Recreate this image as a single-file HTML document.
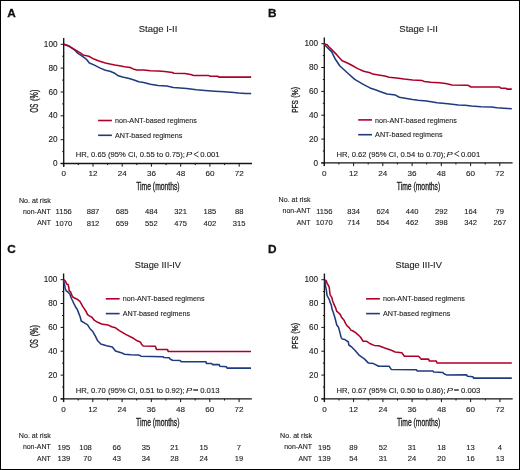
<!DOCTYPE html>
<html><head><meta charset="utf-8"><style>
html,body{margin:0;padding:0;background:#fff;}
body{width:520px;height:470px;overflow:hidden;font-family:"Liberation Sans",sans-serif;}
svg{display:block;}
</style></head><body>
<div style="will-change:transform;width:520px;height:470px"><svg width="520" height="470" viewBox="0 0 520 470" font-family="Liberation Sans, sans-serif">
<style>text{stroke:#222;stroke-width:0.12px;}</style>
<rect x="0" y="0" width="520" height="470" fill="#fff"/>
<text x="7.2" y="17.2" font-size="11.8" font-weight="bold" fill="#111" style="stroke-width:0.3px;stroke:#111">A</text>
<text x="158.0" y="32.2" font-size="9.8" text-anchor="middle" textLength="38.6" lengthAdjust="spacingAndGlyphs" fill="#222">Stage I-II</text>
<path d="M63.7,38.0 V166.7 M60.7,163.5 H252.0" stroke="#151515" stroke-width="1.35" fill="none"/>
<path d="M60.7,163.5 H63.7 M62.2,151.6 H63.7 M60.7,139.7 H63.7 M62.2,127.7 H63.7 M60.7,115.8 H63.7 M62.2,103.9 H63.7 M60.7,92.0 H63.7 M62.2,80.1 H63.7 M60.7,68.1 H63.7 M62.2,56.2 H63.7 M60.7,44.3 H63.7 M63.7,163.5 V166.7 M78.3,163.5 V165.1 M93.0,163.5 V166.7 M107.6,163.5 V165.1 M122.2,163.5 V166.7 M136.8,163.5 V165.1 M151.4,163.5 V166.7 M166.1,163.5 V165.1 M180.7,163.5 V166.7 M195.3,163.5 V165.1 M209.9,163.5 V166.7 M224.6,163.5 V165.1 M239.2,163.5 V166.7" stroke="#151515" stroke-width="1" fill="none"/>
<text x="57.5" y="166.1" font-size="8.2" text-anchor="end" fill="#222">0</text>
<text x="57.5" y="142.3" font-size="8.2" text-anchor="end" fill="#222">20</text>
<text x="57.5" y="118.4" font-size="8.2" text-anchor="end" fill="#222">40</text>
<text x="57.5" y="94.6" font-size="8.2" text-anchor="end" fill="#222">60</text>
<text x="57.5" y="70.7" font-size="8.2" text-anchor="end" fill="#222">80</text>
<text x="57.5" y="46.9" font-size="8.2" text-anchor="end" fill="#222">100</text>
<text x="63.7" y="176.4" font-size="8.1" text-anchor="middle" fill="#222">0</text>
<text x="93.0" y="176.4" font-size="8.1" text-anchor="middle" fill="#222">12</text>
<text x="122.2" y="176.4" font-size="8.1" text-anchor="middle" fill="#222">24</text>
<text x="151.4" y="176.4" font-size="8.1" text-anchor="middle" fill="#222">36</text>
<text x="180.7" y="176.4" font-size="8.1" text-anchor="middle" fill="#222">48</text>
<text x="209.9" y="176.4" font-size="8.1" text-anchor="middle" fill="#222">60</text>
<text x="239.2" y="176.4" font-size="8.1" text-anchor="middle" fill="#222">72</text>
<text x="136.2" y="190.3" font-size="10.6" textLength="43.4" lengthAdjust="spacingAndGlyphs" fill="#222" style="stroke-width:0.35px">Time (months)</text>
<text transform="translate(37.90,112.40) rotate(-90)" x="0" y="0" font-size="10.6" textLength="8.6" lengthAdjust="spacingAndGlyphs" fill="#222" style="stroke-width:0.35px">OS</text>
<text transform="translate(37.90,100.90) rotate(-90)" x="0" y="0" font-size="10.6" textLength="11.2" lengthAdjust="spacingAndGlyphs" fill="#222" style="stroke-width:0.35px">(%)</text>
<path d="M98.1,120.5 h13.8" stroke="#ad0029" stroke-width="1.6"/>
<path d="M98.1,135.3 h13.8" stroke="#1f3b7e" stroke-width="1.6"/>
<text x="115.0" y="123.1" font-size="8.1" textLength="81.8" lengthAdjust="spacingAndGlyphs" fill="#222">non-ANT-based regimens</text>
<text x="115.0" y="137.6" font-size="8.1" textLength="67.4" lengthAdjust="spacingAndGlyphs" fill="#222">ANT-based regimens</text>
<text x="75.80" y="157.10" font-size="8" textLength="109.0" lengthAdjust="spacingAndGlyphs" fill="#222">HR, 0.65 (95% CI, 0.55 to 0.75);</text>
<text x="186.00" y="157.10" font-size="8" font-style="italic" textLength="6.2" lengthAdjust="spacingAndGlyphs" fill="#222">P</text>
<path d="M198.60,151.80 L193.90,154.40 L198.60,157.00" fill="none" stroke="#333" stroke-width="0.9"/>
<text x="200.30" y="157.10" font-size="8" textLength="19.3" lengthAdjust="spacingAndGlyphs" fill="#222">0.001</text>
<text x="18.9" y="202.6" font-size="7.5" textLength="32.0" lengthAdjust="spacingAndGlyphs" fill="#222">No. at risk</text>
<text x="50.8" y="214.0" font-size="7.5" text-anchor="end" textLength="27.8" lengthAdjust="spacingAndGlyphs" fill="#222">non-ANT</text>
<text x="50.8" y="225.4" font-size="7.5" text-anchor="end" textLength="13.6" lengthAdjust="spacingAndGlyphs" fill="#222">ANT</text>
<text x="63.7" y="214.1" font-size="7.6" text-anchor="middle" fill="#222">1156</text>
<text x="63.7" y="225.6" font-size="7.6" text-anchor="middle" fill="#222">1070</text>
<text x="93.0" y="214.1" font-size="7.6" text-anchor="middle" fill="#222">887</text>
<text x="93.0" y="225.6" font-size="7.6" text-anchor="middle" fill="#222">812</text>
<text x="122.2" y="214.1" font-size="7.6" text-anchor="middle" fill="#222">685</text>
<text x="122.2" y="225.6" font-size="7.6" text-anchor="middle" fill="#222">659</text>
<text x="151.4" y="214.1" font-size="7.6" text-anchor="middle" fill="#222">484</text>
<text x="151.4" y="225.6" font-size="7.6" text-anchor="middle" fill="#222">552</text>
<text x="180.7" y="214.1" font-size="7.6" text-anchor="middle" fill="#222">321</text>
<text x="180.7" y="225.6" font-size="7.6" text-anchor="middle" fill="#222">475</text>
<text x="209.9" y="214.1" font-size="7.6" text-anchor="middle" fill="#222">185</text>
<text x="209.9" y="225.6" font-size="7.6" text-anchor="middle" fill="#222">402</text>
<text x="239.2" y="214.1" font-size="7.6" text-anchor="middle" fill="#222">88</text>
<text x="239.2" y="225.6" font-size="7.6" text-anchor="middle" fill="#222">315</text>
<text x="267.9" y="17.2" font-size="11.8" font-weight="bold" fill="#111" style="stroke-width:0.3px;stroke:#111">B</text>
<text x="418.6" y="31.60000000000001" font-size="9.8" text-anchor="middle" textLength="38.6" lengthAdjust="spacingAndGlyphs" fill="#222">Stage I-II</text>
<path d="M324.3,37.4 V166.1 M321.3,162.9 H512.6" stroke="#151515" stroke-width="1.35" fill="none"/>
<path d="M321.3,162.9 H324.3 M322.8,151.0 H324.3 M321.3,139.1 H324.3 M322.8,127.1 H324.3 M321.3,115.2 H324.3 M322.8,103.3 H324.3 M321.3,91.4 H324.3 M322.8,79.5 H324.3 M321.3,67.5 H324.3 M322.8,55.6 H324.3 M321.3,43.7 H324.3 M324.3,162.9 V166.1 M338.9,162.9 V164.5 M353.6,162.9 V166.1 M368.2,162.9 V164.5 M382.8,162.9 V166.1 M397.4,162.9 V164.5 M412.1,162.9 V166.1 M426.7,162.9 V164.5 M441.3,162.9 V166.1 M455.9,162.9 V164.5 M470.6,162.9 V166.1 M485.2,162.9 V164.5 M499.8,162.9 V166.1" stroke="#151515" stroke-width="1" fill="none"/>
<text x="318.1" y="165.5" font-size="8.2" text-anchor="end" fill="#222">0</text>
<text x="318.1" y="141.7" font-size="8.2" text-anchor="end" fill="#222">20</text>
<text x="318.1" y="117.8" font-size="8.2" text-anchor="end" fill="#222">40</text>
<text x="318.1" y="94.0" font-size="8.2" text-anchor="end" fill="#222">60</text>
<text x="318.1" y="70.1" font-size="8.2" text-anchor="end" fill="#222">80</text>
<text x="318.1" y="46.3" font-size="8.2" text-anchor="end" fill="#222">100</text>
<text x="324.3" y="175.8" font-size="8.1" text-anchor="middle" fill="#222">0</text>
<text x="353.6" y="175.8" font-size="8.1" text-anchor="middle" fill="#222">12</text>
<text x="382.8" y="175.8" font-size="8.1" text-anchor="middle" fill="#222">24</text>
<text x="412.1" y="175.8" font-size="8.1" text-anchor="middle" fill="#222">36</text>
<text x="441.3" y="175.8" font-size="8.1" text-anchor="middle" fill="#222">48</text>
<text x="470.6" y="175.8" font-size="8.1" text-anchor="middle" fill="#222">60</text>
<text x="499.8" y="175.8" font-size="8.1" text-anchor="middle" fill="#222">72</text>
<text x="396.8" y="189.70000000000002" font-size="10.6" textLength="43.4" lengthAdjust="spacingAndGlyphs" fill="#222" style="stroke-width:0.35px">Time (months)</text>
<text transform="translate(298.00,112.80) rotate(-90)" x="0" y="0" font-size="9.8" textLength="12.8" lengthAdjust="spacingAndGlyphs" fill="#222" style="stroke-width:0.35px">PFS</text>
<text transform="translate(298.00,97.80) rotate(-90)" x="0" y="0" font-size="9.8" textLength="11.0" lengthAdjust="spacingAndGlyphs" fill="#222" style="stroke-width:0.35px">(%)</text>
<path d="M358.2,119.9 h13.8" stroke="#ad0029" stroke-width="1.6"/>
<path d="M358.2,134.7 h13.8" stroke="#1f3b7e" stroke-width="1.6"/>
<text x="375.1" y="122.5" font-size="8.1" textLength="81.8" lengthAdjust="spacingAndGlyphs" fill="#222">non-ANT-based regimens</text>
<text x="375.1" y="137.0" font-size="8.1" textLength="67.4" lengthAdjust="spacingAndGlyphs" fill="#222">ANT-based regimens</text>
<text x="336.40" y="156.50" font-size="8" textLength="109.0" lengthAdjust="spacingAndGlyphs" fill="#222">HR, 0.62 (95% CI, 0.54 to 0.70);</text>
<text x="446.60" y="156.50" font-size="8" font-style="italic" textLength="6.2" lengthAdjust="spacingAndGlyphs" fill="#222">P</text>
<path d="M459.20,151.20 L454.50,153.80 L459.20,156.40" fill="none" stroke="#333" stroke-width="0.9"/>
<text x="460.90" y="156.50" font-size="8" textLength="19.3" lengthAdjust="spacingAndGlyphs" fill="#222">0.001</text>
<text x="278.5" y="202.0" font-size="7.5" textLength="32.0" lengthAdjust="spacingAndGlyphs" fill="#222">No. at risk</text>
<text x="310.4" y="213.4" font-size="7.5" text-anchor="end" textLength="27.8" lengthAdjust="spacingAndGlyphs" fill="#222">non-ANT</text>
<text x="310.4" y="224.8" font-size="7.5" text-anchor="end" textLength="13.6" lengthAdjust="spacingAndGlyphs" fill="#222">ANT</text>
<text x="324.3" y="213.5" font-size="7.6" text-anchor="middle" fill="#222">1156</text>
<text x="324.3" y="225.0" font-size="7.6" text-anchor="middle" fill="#222">1070</text>
<text x="353.6" y="213.5" font-size="7.6" text-anchor="middle" fill="#222">834</text>
<text x="353.6" y="225.0" font-size="7.6" text-anchor="middle" fill="#222">714</text>
<text x="382.8" y="213.5" font-size="7.6" text-anchor="middle" fill="#222">624</text>
<text x="382.8" y="225.0" font-size="7.6" text-anchor="middle" fill="#222">554</text>
<text x="412.1" y="213.5" font-size="7.6" text-anchor="middle" fill="#222">440</text>
<text x="412.1" y="225.0" font-size="7.6" text-anchor="middle" fill="#222">462</text>
<text x="441.3" y="213.5" font-size="7.6" text-anchor="middle" fill="#222">292</text>
<text x="441.3" y="225.0" font-size="7.6" text-anchor="middle" fill="#222">398</text>
<text x="470.6" y="213.5" font-size="7.6" text-anchor="middle" fill="#222">164</text>
<text x="470.6" y="225.0" font-size="7.6" text-anchor="middle" fill="#222">342</text>
<text x="499.8" y="213.5" font-size="7.6" text-anchor="middle" fill="#222">79</text>
<text x="499.8" y="225.0" font-size="7.6" text-anchor="middle" fill="#222">267</text>
<text x="7.2" y="252.9" font-size="11.8" font-weight="bold" fill="#111" style="stroke-width:0.3px;stroke:#111">C</text>
<text x="157.9" y="267.59999999999997" font-size="9.8" text-anchor="middle" textLength="46.2" lengthAdjust="spacingAndGlyphs" fill="#222">Stage III-IV</text>
<path d="M63.6,273.4 V402.1 M60.6,398.9 H251.9" stroke="#151515" stroke-width="1.35" fill="none"/>
<path d="M60.6,398.9 H63.6 M62.1,387.0 H63.6 M60.6,375.1 H63.6 M62.1,363.1 H63.6 M60.6,351.2 H63.6 M62.1,339.3 H63.6 M60.6,327.4 H63.6 M62.1,315.5 H63.6 M60.6,303.5 H63.6 M62.1,291.6 H63.6 M60.6,279.7 H63.6 M63.6,398.9 V402.1 M78.2,398.9 V400.5 M92.8,398.9 V402.1 M107.5,398.9 V400.5 M122.1,398.9 V402.1 M136.7,398.9 V400.5 M151.3,398.9 V402.1 M166.0,398.9 V400.5 M180.6,398.9 V402.1 M195.2,398.9 V400.5 M209.8,398.9 V402.1 M224.5,398.9 V400.5 M239.1,398.9 V402.1" stroke="#151515" stroke-width="1" fill="none"/>
<text x="57.4" y="401.5" font-size="8.2" text-anchor="end" fill="#222">0</text>
<text x="57.4" y="377.7" font-size="8.2" text-anchor="end" fill="#222">20</text>
<text x="57.4" y="353.8" font-size="8.2" text-anchor="end" fill="#222">40</text>
<text x="57.4" y="330.0" font-size="8.2" text-anchor="end" fill="#222">60</text>
<text x="57.4" y="306.1" font-size="8.2" text-anchor="end" fill="#222">80</text>
<text x="57.4" y="282.3" font-size="8.2" text-anchor="end" fill="#222">100</text>
<text x="63.6" y="411.79999999999995" font-size="8.1" text-anchor="middle" fill="#222">0</text>
<text x="92.8" y="411.79999999999995" font-size="8.1" text-anchor="middle" fill="#222">12</text>
<text x="122.1" y="411.79999999999995" font-size="8.1" text-anchor="middle" fill="#222">24</text>
<text x="151.3" y="411.79999999999995" font-size="8.1" text-anchor="middle" fill="#222">36</text>
<text x="180.6" y="411.79999999999995" font-size="8.1" text-anchor="middle" fill="#222">48</text>
<text x="209.8" y="411.79999999999995" font-size="8.1" text-anchor="middle" fill="#222">60</text>
<text x="239.1" y="411.79999999999995" font-size="8.1" text-anchor="middle" fill="#222">72</text>
<text x="136.1" y="425.7" font-size="10.6" textLength="43.4" lengthAdjust="spacingAndGlyphs" fill="#222" style="stroke-width:0.35px">Time (months)</text>
<text transform="translate(37.80,347.80) rotate(-90)" x="0" y="0" font-size="10.6" textLength="8.6" lengthAdjust="spacingAndGlyphs" fill="#222" style="stroke-width:0.35px">OS</text>
<text transform="translate(37.80,336.30) rotate(-90)" x="0" y="0" font-size="10.6" textLength="11.2" lengthAdjust="spacingAndGlyphs" fill="#222" style="stroke-width:0.35px">(%)</text>
<path d="M105.8,298.8 h13.8" stroke="#ad0029" stroke-width="1.6"/>
<path d="M105.8,313.6 h13.8" stroke="#1f3b7e" stroke-width="1.6"/>
<text x="122.7" y="301.4" font-size="8.1" textLength="81.8" lengthAdjust="spacingAndGlyphs" fill="#222">non-ANT-based regimens</text>
<text x="122.7" y="315.9" font-size="8.1" textLength="67.4" lengthAdjust="spacingAndGlyphs" fill="#222">ANT-based regimens</text>
<text x="75.70" y="392.50" font-size="8" textLength="109.0" lengthAdjust="spacingAndGlyphs" fill="#222">HR, 0.70 (95% CI, 0.51 to 0.92);</text>
<text x="185.90" y="392.50" font-size="8" font-style="italic" textLength="6.2" lengthAdjust="spacingAndGlyphs" fill="#222">P</text>
<rect x="193.30" y="389.00" width="4.7" height="2.0" fill="#666"/>
<text x="200.20" y="392.50" font-size="8" textLength="19.3" lengthAdjust="spacingAndGlyphs" fill="#222">0.013</text>
<text x="18.8" y="438.0" font-size="7.5" textLength="32.0" lengthAdjust="spacingAndGlyphs" fill="#222">No. at risk</text>
<text x="50.7" y="449.4" font-size="7.5" text-anchor="end" textLength="27.8" lengthAdjust="spacingAndGlyphs" fill="#222">non-ANT</text>
<text x="50.7" y="460.79999999999995" font-size="7.5" text-anchor="end" textLength="13.6" lengthAdjust="spacingAndGlyphs" fill="#222">ANT</text>
<text x="63.9" y="449.5" font-size="7.6" text-anchor="middle" fill="#222">195</text>
<text x="63.9" y="461.0" font-size="7.6" text-anchor="middle" fill="#222">139</text>
<text x="85.5" y="449.5" font-size="7.6" text-anchor="middle" fill="#222">108</text>
<text x="87.6" y="461.0" font-size="7.6" text-anchor="middle" fill="#222">70</text>
<text x="116.7" y="449.5" font-size="7.6" text-anchor="middle" fill="#222">66</text>
<text x="116.7" y="461.0" font-size="7.6" text-anchor="middle" fill="#222">43</text>
<text x="145.9" y="449.5" font-size="7.6" text-anchor="middle" fill="#222">35</text>
<text x="145.9" y="461.0" font-size="7.6" text-anchor="middle" fill="#222">34</text>
<text x="174.6" y="449.5" font-size="7.6" text-anchor="middle" fill="#222">21</text>
<text x="174.6" y="461.0" font-size="7.6" text-anchor="middle" fill="#222">28</text>
<text x="203.8" y="449.5" font-size="7.6" text-anchor="middle" fill="#222">15</text>
<text x="203.8" y="461.0" font-size="7.6" text-anchor="middle" fill="#222">24</text>
<text x="238.8" y="449.5" font-size="7.6" text-anchor="middle" fill="#222">7</text>
<text x="239.1" y="461.0" font-size="7.6" text-anchor="middle" fill="#222">19</text>
<text x="267.9" y="252.9" font-size="11.8" font-weight="bold" fill="#111" style="stroke-width:0.3px;stroke:#111">D</text>
<text x="418.7" y="267.59999999999997" font-size="9.8" text-anchor="middle" textLength="46.2" lengthAdjust="spacingAndGlyphs" fill="#222">Stage III-IV</text>
<path d="M324.4,273.4 V402.1 M321.4,398.9 H512.7" stroke="#151515" stroke-width="1.35" fill="none"/>
<path d="M321.4,398.9 H324.4 M322.9,387.0 H324.4 M321.4,375.1 H324.4 M322.9,363.1 H324.4 M321.4,351.2 H324.4 M322.9,339.3 H324.4 M321.4,327.4 H324.4 M322.9,315.5 H324.4 M321.4,303.5 H324.4 M322.9,291.6 H324.4 M321.4,279.7 H324.4 M324.4,398.9 V402.1 M339.0,398.9 V400.5 M353.6,398.9 V402.1 M368.3,398.9 V400.5 M382.9,398.9 V402.1 M397.5,398.9 V400.5 M412.1,398.9 V402.1 M426.8,398.9 V400.5 M441.4,398.9 V402.1 M456.0,398.9 V400.5 M470.6,398.9 V402.1 M485.3,398.9 V400.5 M499.9,398.9 V402.1" stroke="#151515" stroke-width="1" fill="none"/>
<text x="318.2" y="401.5" font-size="8.2" text-anchor="end" fill="#222">0</text>
<text x="318.2" y="377.7" font-size="8.2" text-anchor="end" fill="#222">20</text>
<text x="318.2" y="353.8" font-size="8.2" text-anchor="end" fill="#222">40</text>
<text x="318.2" y="330.0" font-size="8.2" text-anchor="end" fill="#222">60</text>
<text x="318.2" y="306.1" font-size="8.2" text-anchor="end" fill="#222">80</text>
<text x="318.2" y="282.3" font-size="8.2" text-anchor="end" fill="#222">100</text>
<text x="324.4" y="411.79999999999995" font-size="8.1" text-anchor="middle" fill="#222">0</text>
<text x="353.6" y="411.79999999999995" font-size="8.1" text-anchor="middle" fill="#222">12</text>
<text x="382.9" y="411.79999999999995" font-size="8.1" text-anchor="middle" fill="#222">24</text>
<text x="412.1" y="411.79999999999995" font-size="8.1" text-anchor="middle" fill="#222">36</text>
<text x="441.4" y="411.79999999999995" font-size="8.1" text-anchor="middle" fill="#222">48</text>
<text x="470.6" y="411.79999999999995" font-size="8.1" text-anchor="middle" fill="#222">60</text>
<text x="499.9" y="411.79999999999995" font-size="8.1" text-anchor="middle" fill="#222">72</text>
<text x="396.9" y="425.7" font-size="10.6" textLength="43.4" lengthAdjust="spacingAndGlyphs" fill="#222" style="stroke-width:0.35px">Time (months)</text>
<text transform="translate(298.10,348.80) rotate(-90)" x="0" y="0" font-size="9.8" textLength="12.8" lengthAdjust="spacingAndGlyphs" fill="#222" style="stroke-width:0.35px">PFS</text>
<text transform="translate(298.10,333.80) rotate(-90)" x="0" y="0" font-size="9.8" textLength="11.0" lengthAdjust="spacingAndGlyphs" fill="#222" style="stroke-width:0.35px">(%)</text>
<path d="M366.1,298.8 h13.8" stroke="#ad0029" stroke-width="1.6"/>
<path d="M366.1,313.6 h13.8" stroke="#1f3b7e" stroke-width="1.6"/>
<text x="383.0" y="301.4" font-size="8.1" textLength="81.8" lengthAdjust="spacingAndGlyphs" fill="#222">non-ANT-based regimens</text>
<text x="383.0" y="315.9" font-size="8.1" textLength="67.4" lengthAdjust="spacingAndGlyphs" fill="#222">ANT-based regimens</text>
<text x="336.50" y="392.50" font-size="8" textLength="109.0" lengthAdjust="spacingAndGlyphs" fill="#222">HR, 0.67 (95% CI, 0.50 to 0.86);</text>
<text x="446.70" y="392.50" font-size="8" font-style="italic" textLength="6.2" lengthAdjust="spacingAndGlyphs" fill="#222">P</text>
<rect x="454.10" y="389.00" width="4.7" height="2.0" fill="#666"/>
<text x="461.00" y="392.50" font-size="8" textLength="19.3" lengthAdjust="spacingAndGlyphs" fill="#222">0.003</text>
<text x="280.1" y="438.0" font-size="7.5" textLength="32.0" lengthAdjust="spacingAndGlyphs" fill="#222">No. at risk</text>
<text x="312.0" y="449.4" font-size="7.5" text-anchor="end" textLength="27.8" lengthAdjust="spacingAndGlyphs" fill="#222">non-ANT</text>
<text x="312.0" y="460.79999999999995" font-size="7.5" text-anchor="end" textLength="13.6" lengthAdjust="spacingAndGlyphs" fill="#222">ANT</text>
<text x="324.4" y="449.5" font-size="7.6" text-anchor="middle" fill="#222">195</text>
<text x="324.4" y="461.0" font-size="7.6" text-anchor="middle" fill="#222">139</text>
<text x="353.6" y="449.5" font-size="7.6" text-anchor="middle" fill="#222">89</text>
<text x="353.6" y="461.0" font-size="7.6" text-anchor="middle" fill="#222">54</text>
<text x="382.9" y="449.5" font-size="7.6" text-anchor="middle" fill="#222">52</text>
<text x="382.9" y="461.0" font-size="7.6" text-anchor="middle" fill="#222">31</text>
<text x="412.1" y="449.5" font-size="7.6" text-anchor="middle" fill="#222">31</text>
<text x="412.1" y="461.0" font-size="7.6" text-anchor="middle" fill="#222">24</text>
<text x="441.4" y="449.5" font-size="7.6" text-anchor="middle" fill="#222">18</text>
<text x="441.4" y="461.0" font-size="7.6" text-anchor="middle" fill="#222">20</text>
<text x="470.6" y="449.5" font-size="7.6" text-anchor="middle" fill="#222">13</text>
<text x="470.6" y="461.0" font-size="7.6" text-anchor="middle" fill="#222">16</text>
<text x="499.9" y="449.5" font-size="7.6" text-anchor="middle" fill="#222">4</text>
<text x="499.9" y="461.0" font-size="7.6" text-anchor="middle" fill="#222">13</text>
<path d="M63.9,44.3 L68.4,45.9 L74.8,50.2 L78.0,53.4 L81.1,55.3 L86.2,59.1 L89.4,63.0 L93.9,64.9 L100.3,68.1 L105.4,70.2 L110.0,71.3 L114.8,73.3 L117.7,75.4 L122.5,77.1 L129.2,78.6 L134.0,80.0 L138.8,81.7 L143.7,82.4 L150.4,84.3 L158.0,85.5 L166.7,86.0 L173.4,87.4 L186.8,88.4 L196.5,89.8 L205.0,90.5 L214.6,91.2 L224.2,91.7 L233.8,92.4 L238.7,93.1 L245.4,93.5 L251.2,93.5" fill="none" stroke="#1f3b7e" stroke-width="1.55" stroke-linejoin="round"/>
<path d="M63.9,44.3 L68.4,45.7 L74.8,49.6 L81.1,53.4 L83.0,54.9 L88.8,56.3 L93.9,59.1 L99.0,61.0 L105.4,63.0 L110.0,64.1 L114.8,65.1 L119.6,65.8 L124.4,66.7 L130.2,67.5 L133.1,68.9 L136.9,69.9 L143.7,69.9 L150.4,70.7 L158.0,71.1 L164.7,71.5 L172.4,72.5 L173.9,73.3 L184.9,73.5 L190.7,74.4 L193.6,75.4 L208.4,75.4 L210.3,76.3 L218.0,76.3 L218.9,77.1 L251.2,77.1" fill="none" stroke="#ad0029" stroke-width="1.55" stroke-linejoin="round"/>
<path d="M324.0,44.3 L328.0,48.2 L331.7,51.9 L335.4,59.3 L339.9,66.0 L347.3,72.7 L354.7,79.4 L363.7,84.6 L370.0,87.9 L375.3,89.8 L380.6,91.7 L387.0,94.0 L395.5,95.1 L399.3,97.2 L405.1,98.3 L412.6,99.6 L418.0,100.3 L426.5,101.1 L437.1,102.8 L447.8,103.8 L458.4,104.9 L465.0,105.3 L471.4,106.1 L481.0,106.7 L491.6,106.9 L496.9,107.8 L507.6,108.5 L511.8,108.8" fill="none" stroke="#1f3b7e" stroke-width="1.55" stroke-linejoin="round"/>
<path d="M324.0,43.7 L327.2,44.8 L329.4,47.4 L336.9,54.9 L342.1,60.8 L345.8,62.3 L351.8,65.3 L357.7,68.6 L363.7,71.3 L370.0,72.8 L372.7,74.1 L378.5,74.9 L384.9,76.0 L389.1,77.2 L396.6,78.1 L404.0,79.1 L412.6,80.0 L418.0,80.3 L422.3,80.6 L424.4,81.5 L430.8,82.2 L439.3,82.8 L445.7,83.6 L452.0,84.9 L465.0,85.3 L468.2,85.3 L470.9,87.0 L499.6,87.0 L501.2,88.3 L506.0,88.3 L507.0,89.1 L511.8,89.1" fill="none" stroke="#ad0029" stroke-width="1.55" stroke-linejoin="round"/>
<path d="M63.7,280.1 L64.6,284.8 L65.4,289.1 L66.3,290.8 L68.0,292.1 L69.7,293.8 L70.5,295.9 L71.4,298.5 L72.7,301.0 L73.9,303.6 L75.6,307.0 L77.3,309.5 L78.6,312.9 L80.3,317.2 L81.2,321.0 L84.4,322.9 L87.6,324.8 L90.0,328.7 L92.6,331.3 L95.1,335.7 L97.7,340.8 L100.8,344.0 L106.6,345.7 L112.3,346.9 L115.5,351.0 L121.9,352.9 L124.4,354.2 L130.8,354.8 L138.0,355.0 L139.7,355.2 L140.9,356.3 L162.8,356.7 L164.0,357.5 L169.2,357.8 L170.3,359.2 L172.6,360.2 L180.1,360.4 L181.3,361.8 L206.0,361.7 L206.5,363.5 L211.7,363.5 L212.5,364.6 L219.2,364.6 L219.8,366.3 L226.4,366.7 L227.1,368.1 L251.0,368.1" fill="none" stroke="#1f3b7e" stroke-width="1.55" stroke-linejoin="round"/>
<path d="M63.7,279.7 L65.4,281.0 L66.7,284.0 L68.2,284.8 L68.8,287.4 L69.2,290.8 L70.5,291.6 L71.4,294.2 L72.2,295.9 L73.1,297.2 L75.6,298.5 L77.3,299.3 L79.9,301.4 L81.2,303.6 L82.5,306.1 L84.2,308.7 L85.9,311.2 L87.6,314.6 L89.3,315.9 L91.9,317.2 L94.5,320.4 L97.7,322.3 L101.5,324.0 L107.9,324.9 L111.7,326.8 L115.5,327.8 L119.3,330.6 L125.7,334.4 L133.4,338.3 L137.2,340.8 L140.3,341.9 L141.5,344.2 L143.2,346.0 L155.3,346.3 L156.5,349.4 L167.4,349.4 L168.2,351.4 L251.0,351.5" fill="none" stroke="#ad0029" stroke-width="1.55" stroke-linejoin="round"/>
<path d="M325.0,280.4 L325.4,285.5 L326.3,289.8 L327.1,295.7 L328.4,297.8 L329.7,300.8 L330.5,303.4 L331.3,305.0 L332.1,309.3 L333.4,312.7 L334.7,316.9 L336.0,322.0 L336.8,325.0 L338.5,327.2 L339.4,330.6 L340.2,333.6 L341.1,337.4 L342.4,339.1 L344.9,339.5 L346.6,340.8 L348.3,341.7 L348.8,345.0 L351.9,347.2 L354.9,350.2 L359.4,355.4 L364.6,359.1 L368.3,362.9 L373.5,363.6 L378.7,366.3 L389.1,366.3 L391.4,369.6 L416.5,369.8 L417.1,370.9 L433.1,371.1 L433.7,372.1 L442.7,372.4 L444.0,373.7 L446.5,374.9 L466.5,374.8 L467.5,376.3 L472.9,376.7 L473.5,378.1 L511.8,378.1" fill="none" stroke="#1f3b7e" stroke-width="1.55" stroke-linejoin="round"/>
<path d="M325.0,280.0 L326.3,280.8 L327.1,283.4 L328.4,285.5 L329.2,287.2 L329.7,291.5 L330.1,294.9 L331.8,297.4 L332.6,300.8 L333.9,304.2 L335.5,307.6 L336.8,311.4 L338.5,312.7 L340.2,314.4 L341.9,317.8 L344.1,320.3 L345.8,323.8 L347.1,325.9 L349.2,327.6 L350.9,330.1 L353.0,331.0 L355.6,332.7 L358.1,334.8 L360.8,337.5 L363.1,341.3 L366.8,341.3 L369.8,343.5 L374.2,345.4 L378.7,345.7 L384.7,348.0 L390.6,349.9 L395.1,352.0 L401.8,352.7 L404.4,356.2 L418.4,356.2 L419.7,357.4 L421.0,359.1 L428.6,359.1 L429.3,360.9 L436.3,360.9 L436.9,362.9 L511.8,363.0" fill="none" stroke="#ad0029" stroke-width="1.55" stroke-linejoin="round"/>
<rect x="0.5" y="0.5" width="519" height="469" fill="none" stroke="#000" stroke-width="1"/>
</svg></div>
</body></html>
